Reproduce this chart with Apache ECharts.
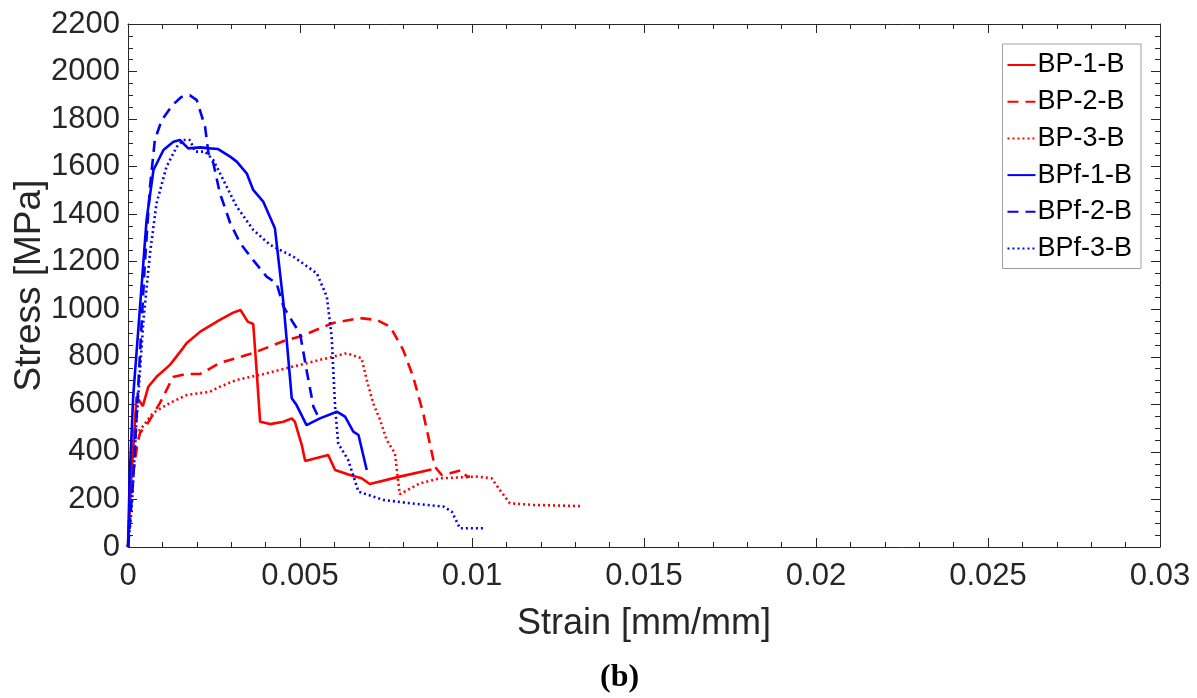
<!DOCTYPE html>
<html><head><meta charset="utf-8">
<script src="https://cdn.jsdelivr.net/npm/echarts@6/dist/echarts.min.js"></script>
<style>html,body{margin:0;padding:0;background:#fff;}#c{width:1197px;height:698px;}</style>
</head><body><div id="c"></div>
<script>
const seriesNames = ['BP-1-B','BP-2-B','BP-3-B','BPf-1-B','BPf-2-B','BPf-3-B'];
const xTicks = [0, 0.005, 0.01, 0.015, 0.02, 0.025, 0.03];
const yTicks = [0,200,400,600,800,1000,1200,1400,1600,1800,2000,2200];

const bp1Strain = [0,0.00008,0.00018,0.00025,0.00043,0.00059,0.00083,0.00122,0.00156,0.0017,0.0021,0.00267,0.00306,0.00327,0.00348,0.00364,0.00374,0.00384,0.00413,0.00452,0.00476,0.00485,0.00505,0.00515,0.00582,0.00602,0.00645,0.00679,0.00703,0.0079,0.00882];
const bp1Stress = [0,250,480,632,593,674,716,766,829,857,906,955,986,997,948,938,740,527,517,527,541,527,430,362,387,324,303,289,265,296,326];

const bp2Strain = [0,0.00008,0.00015,0.00022,0.00028,0.00035,0.00058,0.00093,0.00131,0.0017,0.0021,0.00267,0.00364,0.00461,0.005,0.00596,0.00674,0.00723,0.00762,0.008,0.00829,0.00858,0.00892,0.00912,0.00936,0.0097,0.00985,0.00994];
const bp2Stress = [0,200,310,380,440,480,522,606,715,728,728,774,816,871,885,942,963,955,927,829,716,564,338,303,310,324,296,296];

const bp3Strain = [0,0.00007,0.00015,0.00035,0.00073,0.00122,0.0017,0.00238,0.00267,0.00316,0.00384,0.00461,0.00558,0.00636,0.00679,0.00694,0.00713,0.00733,0.00752,0.00776,0.0079,0.00849,0.00907,0.01013,0.01057,0.01081,0.0111,0.01177,0.01318];
const bp3Stress = [0,280,480,492,564,606,639,653,674,703,724,752,787,815,794,703,604,534,450,394,222,268,289,296,289,240,184,177,172];

const bpf1Strain = [0,0.00005,0.00015,0.00035,0.00054,0.00074,0.00103,0.00132,0.00151,0.00175,0.0021,0.00238,0.00262,0.00297,0.00316,0.00345,0.00364,0.00393,0.00427,0.00452,0.00476,0.0049,0.00519,0.00558,0.00607,0.00631,0.00655,0.0067,0.00694];
const bpf1Stress = [0,300,632,1011,1376,1586,1670,1705,1712,1677,1681,1677,1674,1642,1621,1572,1502,1453,1341,1025,626,597,513,541,569,548,485,471,324];

const bpf2Strain = [0,0.00008,0.00015,0.00049,0.00064,0.00078,0.00098,0.0013,0.00155,0.0018,0.002,0.00224,0.00234,0.00248,0.00267,0.00297,0.00326,0.00364,0.00403,0.00432,0.00452,0.00481,0.005,0.00519,0.00539,0.00553];
const bpf2Stress = [0,150,282,1193,1516,1712,1796,1860,1893,1900,1880,1768,1656,1615,1489,1363,1278,1207,1137,1109,1011,941,899,745,590,548];

const bpf3Strain = [0,0.0001,0.00025,0.00045,0.00064,0.00083,0.00112,0.00142,0.00161,0.0018,0.00195,0.00224,0.00248,0.00277,0.00316,0.00364,0.00413,0.00481,0.00549,0.00578,0.00592,0.00602,0.00611,0.0064,0.0067,0.00742,0.0082,0.00917,0.00941,0.00965,0.01033];
const bpf3Stress = [0,150,534,955,1236,1446,1600,1684,1712,1712,1663,1663,1628,1544,1432,1334,1271,1221,1151,1053,885,590,436,366,233,198,184,170,149,79,79];

function zip(a,b){return a.map((v,i)=>[v,b[i]]);}
const strains=[bp1Strain,bp2Strain,bp3Strain,bpf1Strain,bpf2Strain,bpf3Strain];
const stresses=[bp1Stress,bp2Stress,bp3Stress,bpf1Stress,bpf2Stress,bpf3Stress];
const colors=['#ff0000','#ff0000','#ff0000','#0000ff','#0000ff','#0000ff'];
const types=['solid',[11,7],[2,3],'solid',[11,7],[2,3]];

const axisCol='#262626';
const font='"Liberation Sans", Arial, sans-serif';
const chart=echarts.init(document.getElementById('c'),null,{renderer:'canvas'});
const baseX={type:'value',min:0,max:0.03,interval:0.005,
  axisLine:{show:true,onZero:false,lineStyle:{color:axisCol,width:1}},
  axisTick:{show:true,inside:true,length:9,lineStyle:{color:axisCol}},
  minorTick:{show:true,splitNumber:5,length:5,lineStyle:{color:axisCol}},
  splitLine:{show:false}};
const baseY={type:'value',min:0,max:2200,interval:200,
  axisLine:{show:true,onZero:false,lineStyle:{color:axisCol,width:1}},
  axisTick:{show:true,inside:true,length:9,lineStyle:{color:axisCol}},
  minorTick:{show:true,splitNumber:4,length:5,lineStyle:{color:axisCol}},
  splitLine:{show:false}};
chart.setOption({
  animation:false,
  backgroundColor:'#fff',
  grid:{left:128,right:37,top:24,bottom:151,containLabel:false,outerBoundsMode:'none'},
  title:{text:'(b)',left:600,top:662,padding:0,textStyle:{fontFamily:'"Liberation Serif","Times New Roman",serif',fontWeight:'bold',fontSize:32,color:'#000'}},
  legend:{data:seriesNames,orient:'vertical',right:56,top:44,itemWidth:28,itemHeight:14,itemGap:8.7,
    backgroundColor:'#fff',borderColor:'#a0a0a0',borderWidth:1,padding:[7,9,6,4],
    itemStyle:{opacity:0},
    textStyle:{fontFamily:font,fontSize:27,lineHeight:28,color:'#000',padding:[0,0,0,-3]}},
  xAxis:[Object.assign({},baseX,{position:'bottom',
      name:'Strain [mm/mm]',nameLocation:'middle',nameGap:59,nameMoveOverlap:false,
      nameTextStyle:{fontFamily:font,fontSize:36,color:axisCol},
      axisLabel:{fontFamily:font,fontSize:31,color:axisCol,margin:14,
        formatter:v=>{const r=Math.round(v*1000)/1000; return r===0?'0':String(r);}}}),
    Object.assign({},baseX,{position:'top',axisLabel:{show:false}})],
  yAxis:[Object.assign({},baseY,{position:'left',
      name:'Stress [MPa]',nameLocation:'middle',nameGap:80,nameMoveOverlap:false,
      nameTextStyle:{fontFamily:font,fontSize:37,color:axisCol},
      axisLabel:{fontFamily:font,fontSize:31,color:axisCol,margin:8,formatter:v=>String(v)}}),
    Object.assign({},baseY,{position:'right',axisLabel:{show:false}})],
  series:seriesNames.map((n,i)=>({name:n,type:'line',data:zip(strains[i],stresses[i]),
    showSymbol:false,symbol:'none',smooth:false,color:colors[i],
    lineStyle:{color:colors[i],width:2.6,type:types[i],cap:'butt'},
    itemStyle:{color:colors[i]}}))
});
</script></body></html>
